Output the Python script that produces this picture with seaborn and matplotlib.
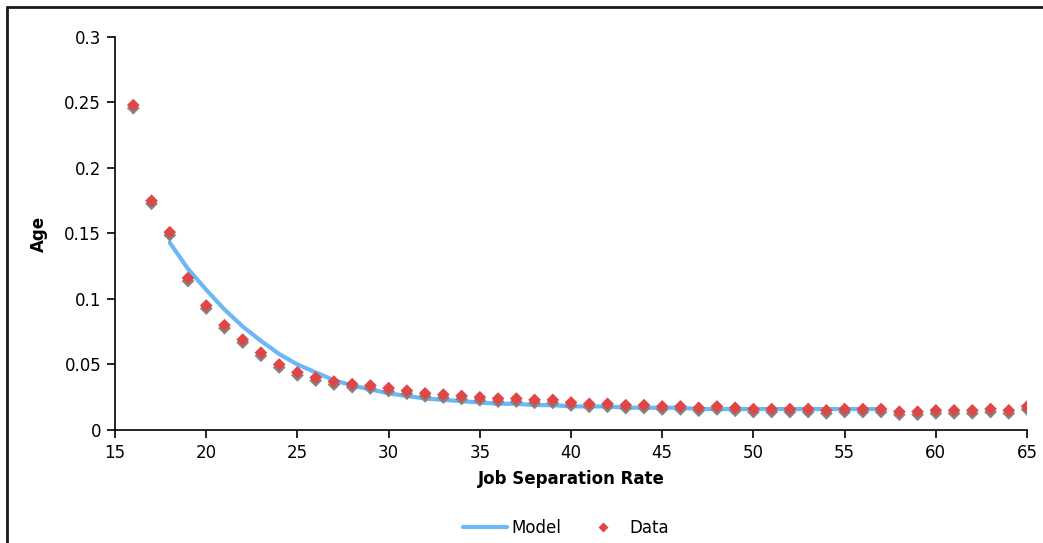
import numpy as np
import pandas as pd
import matplotlib
matplotlib.use('Agg')
import matplotlib.pyplot as plt
import matplotlib.transforms as mtransforms
from matplotlib.lines import Line2D
import seaborn as sns

# data
data_age = list(range(16, 66))
data_rate = [0.248, 0.175, 0.151, 0.116, 0.095, 0.080, 0.069, 0.059, 0.050, 0.044,
             0.040, 0.037, 0.035, 0.034, 0.032, 0.030, 0.028, 0.027, 0.026, 0.025,
             0.024, 0.024, 0.023, 0.023, 0.021, 0.020, 0.020, 0.019, 0.019, 0.018,
             0.018, 0.017, 0.018, 0.017, 0.016, 0.016, 0.016, 0.016, 0.015, 0.016,
             0.016, 0.016, 0.014, 0.014, 0.015, 0.015, 0.015, 0.016, 0.015, 0.018]

model_age = list(range(18, 58))
model_rate = [0.143, 0.123, 0.107, 0.092, 0.079, 0.068, 0.058, 0.050, 0.044, 0.038,
              0.034, 0.031, 0.028, 0.026, 0.024, 0.023, 0.022, 0.021, 0.020, 0.020,
              0.019, 0.019, 0.018, 0.018, 0.018, 0.017, 0.017, 0.017, 0.017, 0.016,
              0.016, 0.016, 0.016, 0.016, 0.016, 0.016, 0.016, 0.016, 0.016, 0.016]

data_df = pd.DataFrame({'age': data_age, 'rate': data_rate})
model_df = pd.DataFrame({'age': model_age, 'rate': model_rate})

line_color = '#6cb8f6'
dot_color = '#e04646'

sns.set_style('white')
plt.rcParams['font.family'] = ['DejaVu Sans']
plt.rcParams['text.color'] = 'black'
plt.rcParams['axes.labelcolor'] = 'black'
plt.rcParams['xtick.color'] = 'black'
plt.rcParams['ytick.color'] = 'black'

fig = plt.figure(figsize=(10.43, 5.43), dpi=100)
ax = fig.add_axes([0.1103, 0.2081, 0.8744, 0.7238])

sns.lineplot(data=model_df, x='age', y='rate', ax=ax, color=line_color, linewidth=3)

# grey drop shadow under the markers
shadow = mtransforms.offset_copy(ax.transData, fig=fig, x=0, y=-2.2, units='points')
sns.scatterplot(data=data_df, x='age', y='rate', ax=ax, marker='D', s=42,
                color='#848484', edgecolor='none', transform=shadow, zorder=3)
sns.scatterplot(data=data_df, x='age', y='rate', ax=ax, marker='D', s=42,
                color=dot_color, edgecolor='none', zorder=4)

ax.set_xlim(15, 65)
ax.set_ylim(0, 0.3)
ax.set_xticks(range(15, 70, 5))
ax.set_yticks([0, 0.05, 0.1, 0.15, 0.2, 0.25, 0.3])
ax.set_yticklabels(['0', '0.05', '0.1', '0.15', '0.2', '0.25', '0.3'])
ax.tick_params(axis='both', direction='out', length=6, width=1.2, color='black',
               labelcolor='black', labelsize=12, pad=4, bottom=True, left=True)
for side in ['top', 'right']:
    ax.spines[side].set_visible(False)
for side in ['left', 'bottom']:
    ax.spines[side].set_color('black')
    ax.spines[side].set_linewidth(1.2)

ax.set_xlabel('Job Separation Rate', fontsize=12, fontweight='bold', labelpad=6,
              color='black')
ax.set_ylabel('Age', fontsize=12, fontweight='bold', labelpad=12, color='black')

handles = [Line2D([0], [0], color=line_color, linewidth=3),
           Line2D([0], [0], marker='D', color='none', markerfacecolor=dot_color,
                  markeredgecolor='none', markersize=5.5)]
fig.legend(handles, ['Model', 'Data'], loc='center', ncol=2, frameon=False,
           fontsize=12, bbox_to_anchor=(0.543, 0.028), handlelength=2.6,
           columnspacing=1.2, handletextpad=0.3, labelcolor='black')

# outer frame (left and top edges only visible)
fig.add_artist(Line2D([0.0067, 0.0067], [0, 0.987], color='#1a1a1a', linewidth=2,
                      transform=fig.transFigure))
fig.add_artist(Line2D([0.0067, 1.0], [0.987, 0.987], color='#1a1a1a', linewidth=2,
                      transform=fig.transFigure))

fig.savefig('out.png', dpi=100)
